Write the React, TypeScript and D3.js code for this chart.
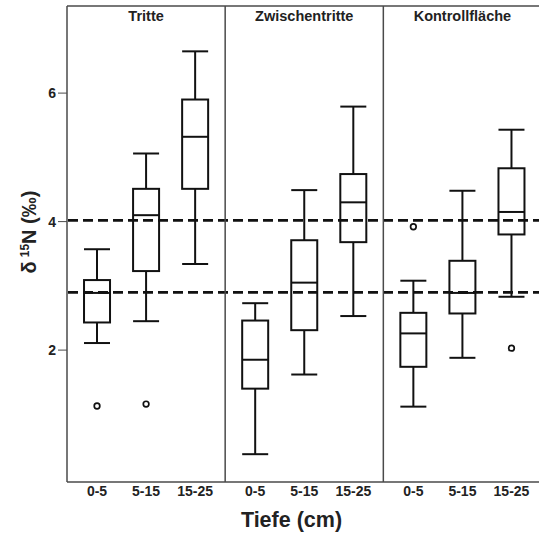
import React from "react";
import * as d3 from "d3";

const panels = ["Tritte", "Zwischentritte", "Kontrollfläche"];
const depths = ["0-5", "5-15", "15-25"];
const yTicks = [2, 4, 6];
const refLines = [4.02, 2.9];

// [panel][depth] : lowWhisker, q1, median, q3, highWhisker
const lowW = [
  [2.11, 2.45, 3.34],
  [0.38, 1.62, 2.53],
  [1.12, 1.88, 2.83],
];
const q1 = [
  [2.43, 3.23, 4.51],
  [1.4, 2.31, 3.68],
  [1.74, 2.57, 3.8],
];
const med = [
  [2.89, 4.1, 5.32],
  [1.85, 3.05, 4.3],
  [2.26, 2.89, 4.15],
];
const q3 = [
  [3.09, 4.51, 5.9],
  [2.46, 3.71, 4.74],
  [2.58, 3.39, 4.83],
];
const highW = [
  [3.57, 5.06, 6.65],
  [2.73, 4.49, 5.79],
  [3.08, 4.48, 5.43],
];
const outliers = [
  [[1.13], [1.16], []],
  [[], [], []],
  [[3.92], [], [2.03]],
];

const W = 539;
const H = 537;
const left = 67;
const right = 541.5;
const top = 6;
const bottom = 482;
const font = "'Liberation Sans', Arial, sans-serif";
const frameColor = "#4a4a4a";

export default function App() {
  const y = d3.scaleLinear().domain([2, 6]).range([350.1, 93.1]);
  const px = d3.scaleBand().domain(panels).range([left, right]).padding(0);
  const dx = d3.scalePoint().domain(depths).range([0, px.bandwidth()]).padding(0.612);
  const bw = 26;

  return (
    <svg
      width={W}
      height={H}
      style={{ position: "absolute", left: 0, top: 0, background: "#fff" }}
      fontFamily={font}
    >
      <rect x={0} y={0} width={W} height={H} fill="#fff" />
      {/* boxes */}
      {panels.map((p, pi) =>
        depths.map((d, di) => {
          const cx = (px(p) as number) + (dx(d) as number);
          const x0 = cx - bw / 2;
          return (
            <g key={p + d} stroke="#111" strokeWidth={2} fill="none">
              <line x1={cx} x2={cx} y1={y(highW[pi][di])} y2={y(q3[pi][di])} />
              <line x1={cx} x2={cx} y1={y(q1[pi][di])} y2={y(lowW[pi][di])} />
              <line x1={x0} x2={x0 + bw} y1={y(highW[pi][di])} y2={y(highW[pi][di])} />
              <line x1={x0} x2={x0 + bw} y1={y(lowW[pi][di])} y2={y(lowW[pi][di])} />
              <rect
                x={x0}
                y={y(q3[pi][di])}
                width={bw}
                height={y(q1[pi][di]) - y(q3[pi][di])}
                fill="#fff"
              />
              <line x1={x0} x2={x0 + bw} y1={y(med[pi][di])} y2={y(med[pi][di])} />
              {outliers[pi][di].map((o, oi) => (
                <circle key={oi} cx={cx} cy={y(o)} r={2.8} strokeWidth={1.7} fill="#fff" />
              ))}
            </g>
          );
        })
      )}
      {/* reference dashed lines */}
      {refLines.map((v) => (
        <line
          key={v}
          x1={left}
          x2={W}
          y1={y(v)}
          y2={y(v)}
          stroke="#111"
          strokeWidth={2.8}
          strokeDasharray="10 5"
          strokeDashoffset={-1}
        />
      ))}
      {/* frame */}
      <g stroke={frameColor} strokeWidth={1.5} fill="none">
        <line x1={left} x2={right} y1={top} y2={top} />
        <line x1={left} x2={right} y1={bottom} y2={bottom} />
        <line x1={left} x2={left} y1={top} y2={bottom} />
        {panels.slice(1).map((p) => (
          <line key={p} x1={px(p)} x2={px(p)} y1={top} y2={bottom} />
        ))}
        <line x1={right} x2={right} y1={top} y2={bottom} />
      </g>
      {/* y ticks */}
      {yTicks.map((t) => (
        <g key={t}>
          <line x1={58} x2={left} y1={y(t)} y2={y(t)} stroke={frameColor} strokeWidth={1} />
          <text
            x={56}
            y={y(t)}
            dy="0.36em"
            textAnchor="end"
            fontSize={14}
            fontWeight="bold"
            fill="#222"
          >
            {t}
          </text>
        </g>
      ))}
      {/* panel titles */}
      {panels.map((p) => (
        <text
          key={p}
          x={(px(p) as number) + px.bandwidth() / 2}
          y={20.5}
          textAnchor="middle"
          fontSize={14.5}
          fontWeight="bold"
          fill="#222"
        >
          {p}
        </text>
      ))}
      {/* x tick labels */}
      {panels.map((p) =>
        depths.map((d) => (
          <text
            key={p + d}
            x={(px(p) as number) + (dx(d) as number)}
            y={496}
            textAnchor="middle"
            fontSize={14}
            fontWeight="bold"
            fill="#222"
          >
            {d}
          </text>
        ))
      )}
      {/* x title */}
      <text x={291.5} y={527} textAnchor="middle" fontSize={21.5} fontWeight="bold" fill="#222">
        Tiefe (cm)
      </text>
      {/* y title */}
      <text
        transform="translate(36,232) rotate(-90)"
        textAnchor="middle"
        fontSize={20}
        fontWeight="bold"
        fill="#222"
      >
        δ
        <tspan dx={4} fontSize={12} dy={-7}>
          15
        </tspan>
        <tspan dy={7}>N (‰)</tspan>
      </text>
    </svg>
  );
}
